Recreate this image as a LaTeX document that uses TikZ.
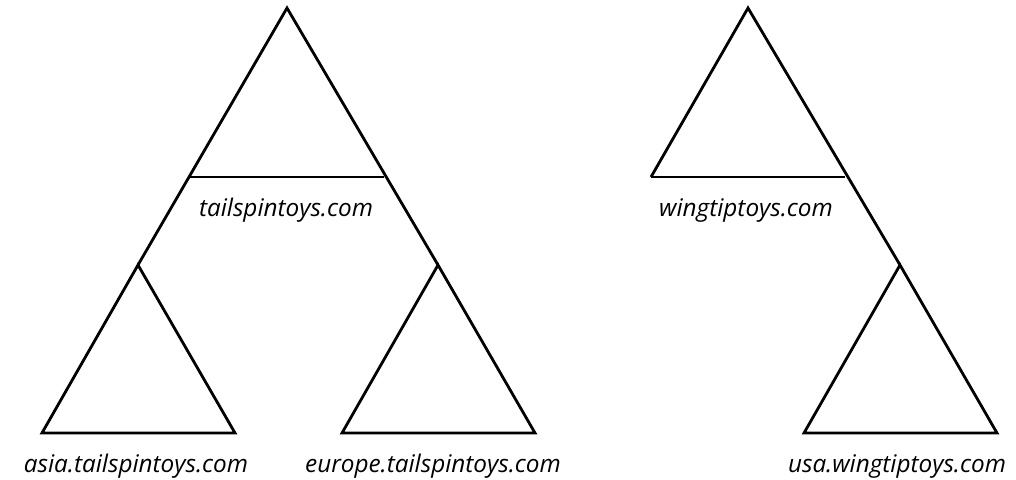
\documentclass[tikz,border=0pt]{standalone}
\usepackage{fontspec}
\setmainfont{Open Sans}
\begin{document}
\begin{tikzpicture}[x=1pt,y=-1pt,
  edge/.style={line width=2.8pt,line join=miter,black},
  lbl/.style={anchor=base,inner sep=0pt,font=\fontsize{24.3}{28}\selectfont\itshape}]
\useasboundingbox (0,0) rectangle (1016,479);
% left tree
\coordinate (A) at (287,8);
\coordinate (AL) at (190,177);
\coordinate (AR) at (384,177);
\coordinate (B) at (138,265);
\coordinate (C) at (438,265);
\draw[edge] (B) -- (A) -- (C);
\draw[edge] (AL) -- (AR);
\draw[edge] (B) -- (42,433) -- (235,433) -- cycle;
\draw[edge] (C) -- (342,433) -- (535,433) -- cycle;
% right tree
\coordinate (D) at (748,8);
\coordinate (DL) at (651,177);
\coordinate (E) at (900,265);
\draw[edge] (DL) -- (D) -- (E);
\draw[edge] (DL) -- (845,177);
\draw[edge] (E) -- (804,433) -- (997,433) -- cycle;
% labels
\node[lbl] (t1) at (286,216) {tailspintoys.com};
\node[lbl] (t2) at (136,472) {asia.tailspintoys.com};
\node[lbl] (t3) at (433,472) {europe.tailspintoys.com};
\node[lbl] (t4) at (746,216) {wingtiptoys.com};
\node[lbl] (t5) at (897,472) {usa.wingtiptoys.com};
\end{tikzpicture}
\end{document}
